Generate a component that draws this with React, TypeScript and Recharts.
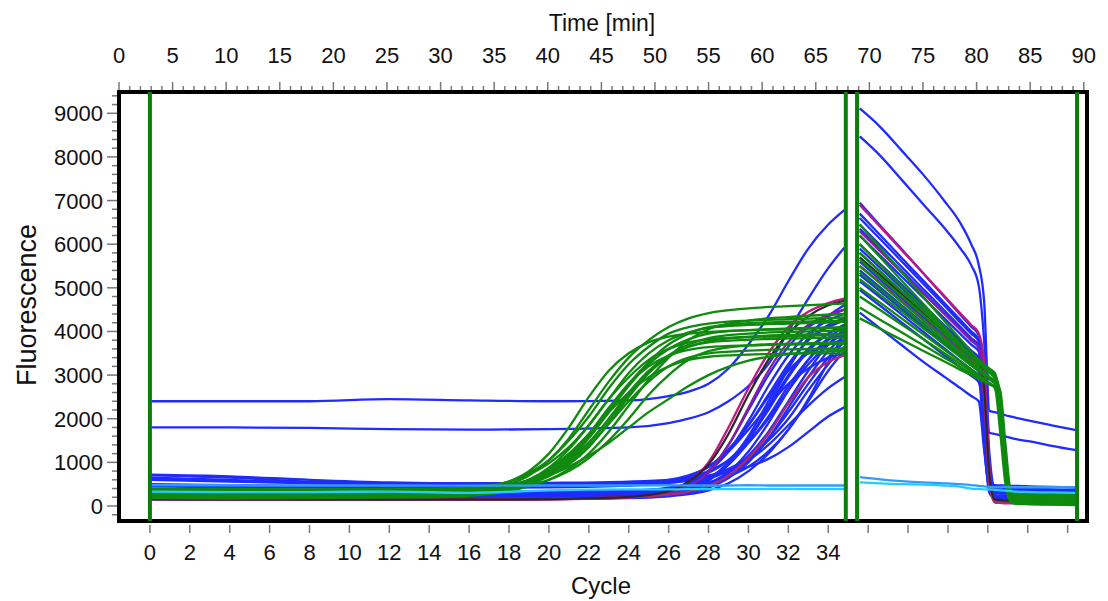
import React from "react";
import { LineChart, Line, XAxis, YAxis, ReferenceLine, ReferenceArea } from "recharts";

// ---------- axes ----------
const CYCLE_MIN = -1.55;
const CYCLE_MAX = 46.97;
const TIME_MIN = 0;
const TIME_MAX = 90.3;
const Y_MIN = -344;
const Y_MAX = 9488;
const CYCLE_TICKS = [0, 2, 4, 6, 8, 10, 12, 14, 16, 18, 20, 22, 24, 26, 28, 30, 32, 34, 36, 38, 40, 42, 44, 46];
const CYCLE_LABEL_MAX = 34;
const TIME_MAJOR = [0, 5, 10, 15, 20, 25, 30, 35, 40, 45, 50, 55, 60, 65, 70, 75, 80, 85, 90];
const Y_MAJOR = [0, 1000, 2000, 3000, 4000, 5000, 6000, 7000, 8000, 9000];
const TIME_TICKS = Array.from({ length: 91 }, (_, i) => i);
const Y_TICKS = Array.from({ length: 49 }, (_, i) => -200 + i * 200);

// vertical green markers
const MARK_CYCLE = 0;
const MARK_TIMES = [67.8, 68.85, 89.37];

// ---------- amplification (x = cycle) ----------
const GREEN_X = [0, 4, 8, 12, 15, 17, 18, 19, 20, 21, 22, 23, 24, 25, 26, 27, 28, 30, 32, 34.8];
const GREEN_AMP = [
  [300, 290, 280, 290, 320, 420, 560, 800, 1200, 1800, 2500, 3100, 3500, 3750, 3880, 3950, 3990, 4030, 4050, 4080],
  [250, 240, 250, 260, 290, 380, 500, 700, 1050, 1550, 2200, 2850, 3400, 3800, 4100, 4300, 4420, 4530, 4580, 4640],
  [350, 340, 330, 340, 370, 450, 560, 760, 1050, 1500, 2050, 2700, 3250, 3650, 3950, 4100, 4180, 4250, 4280, 4320],
  [200, 190, 200, 210, 230, 310, 420, 600, 880, 1300, 1850, 2450, 2950, 3350, 3600, 3750, 3820, 3870, 3890, 3920],
  [400, 390, 380, 390, 410, 470, 560, 720, 980, 1350, 1850, 2450, 3050, 3500, 3800, 3980, 4080, 4150, 4180, 4220],
  [300, 290, 300, 300, 320, 380, 460, 600, 820, 1150, 1650, 2250, 2800, 3200, 3450, 3580, 3640, 3680, 3700, 3720],
  [180, 170, 180, 190, 210, 270, 350, 500, 720, 1050, 1550, 2150, 2750, 3250, 3600, 3820, 3950, 4030, 4070, 4100],
  [320, 310, 300, 310, 330, 380, 440, 560, 750, 1050, 1450, 2000, 2600, 3100, 3450, 3650, 3750, 3810, 3840, 3860],
  [260, 250, 260, 270, 290, 340, 400, 500, 680, 950, 1350, 1900, 2500, 3050, 3450, 3700, 3850, 3950, 3990, 4020],
  [380, 370, 360, 370, 390, 430, 490, 590, 750, 1000, 1380, 1880, 2400, 2850, 3200, 3400, 3500, 3560, 3590, 3610],
  [220, 210, 220, 230, 250, 290, 350, 450, 600, 850, 1200, 1700, 2300, 2900, 3400, 3800, 4050, 4250, 4330, 4400],
  [290, 280, 290, 290, 310, 350, 400, 480, 600, 800, 1100, 1500, 2000, 2550, 3000, 3350, 3550, 3680, 3720, 3750],
  [330, 320, 320, 330, 350, 400, 460, 560, 700, 900, 1150, 1450, 1800, 2150, 2450, 2750, 3000, 3330, 3480, 3560],
  [240, 230, 240, 250, 270, 340, 430, 600, 850, 1200, 1650, 2150, 2600, 2950, 3200, 3350, 3420, 3470, 3490, 3500],
  [210, 200, 210, 220, 240, 300, 380, 530, 760, 1100, 1600, 2200, 2800, 3300, 3700, 3950, 4100, 4190, 4220, 4250],
  [360, 350, 340, 350, 370, 420, 480, 590, 770, 1050, 1450, 1980, 2550, 3050, 3420, 3650, 3780, 3880, 3920, 3950],
];

const BLUE_X = [0, 4, 8, 12, 16, 20, 24, 26, 27, 28, 29, 30, 31, 32, 33, 34, 34.8];
const BLUE_AMP = [
  [180, 170, 160, 160, 170, 180, 230, 330, 480, 800, 1400, 2200, 3000, 3650, 4100, 4350, 4500],
  [250, 240, 230, 230, 240, 250, 290, 380, 520, 800, 1250, 1950, 2750, 3450, 3950, 4250, 4400],
  [600, 560, 520, 500, 500, 500, 520, 580, 680, 900, 1300, 1850, 2550, 3250, 3800, 4100, 4250],
  [160, 150, 150, 150, 150, 160, 200, 280, 380, 580, 950, 1500, 2250, 3000, 3600, 3950, 4150],
  [320, 300, 290, 290, 290, 300, 320, 380, 470, 650, 950, 1450, 2050, 2750, 3350, 3800, 4000],
  [700, 650, 560, 520, 510, 510, 520, 560, 640, 800, 1050, 1450, 2000, 2650, 3250, 3700, 3950],
  [200, 190, 180, 180, 190, 200, 230, 290, 360, 500, 750, 1150, 1700, 2400, 3100, 3700, 4050],
  [280, 270, 260, 260, 260, 270, 290, 340, 400, 520, 720, 1050, 1550, 2150, 2800, 3400, 3750],
  [650, 600, 530, 500, 490, 490, 500, 530, 580, 680, 850, 1100, 1500, 2000, 2650, 3250, 3650],
  [150, 140, 140, 140, 150, 160, 180, 220, 270, 360, 520, 800, 1200, 1750, 2400, 3100, 3550],
  [300, 290, 280, 280, 290, 300, 340, 420, 500, 620, 800, 1050, 1400, 1850, 2300, 2700, 2950],
  [620, 580, 540, 520, 520, 530, 560, 600, 640, 700, 780, 900, 1080, 1350, 1700, 2050, 2260],
  [450, 430, 420, 420, 420, 430, 470, 560, 680, 900, 1250, 1750, 2300, 2800, 3150, 3400, 3500],
  [230, 220, 210, 210, 220, 230, 260, 330, 430, 620, 950, 1500, 2300, 3150, 3850, 4350, 4600],
  [350, 340, 330, 330, 330, 340, 360, 400, 450, 540, 680, 900, 1250, 1750, 2450, 3300, 3950],
  [720, 680, 600, 540, 520, 520, 540, 600, 700, 900, 1250, 1850, 2500, 3100, 3500, 3700, 3800],
  [190, 180, 170, 170, 180, 190, 220, 300, 410, 620, 1000, 1600, 2400, 3200, 3800, 4150, 4300],
  [240, 230, 220, 220, 230, 240, 270, 320, 390, 520, 780, 1250, 1900, 2650, 3350, 3850, 4100],
  [170, 160, 150, 150, 160, 170, 190, 240, 300, 420, 640, 1000, 1550, 2250, 2950, 3550, 3900],
  [500, 480, 460, 450, 450, 460, 480, 530, 600, 760, 1050, 1550, 2200, 2950, 3550, 3950, 4150],
];
const MAGENTA_AMP = [
  [150, 140, 140, 140, 140, 150, 200, 330, 560, 1000, 1800, 2700, 3500, 4100, 4450, 4650, 4750],
  [170, 160, 150, 150, 150, 160, 200, 300, 450, 780, 1400, 2250, 3100, 3750, 4150, 4380, 4500],
  [180, 170, 160, 160, 160, 170, 200, 260, 330, 460, 700, 1100, 1650, 2350, 2950, 3300, 3450],
];
const BLACK_AMP = [160, 150, 150, 150, 150, 160, 210, 340, 560, 950, 1650, 2550, 3350, 3950, 4350, 4600, 4700];
const HIGH_AMP = [
  [2400, 2400, 2400, 2450, 2420, 2400, 2420, 2520, 2620, 2800, 3150, 3700, 4350, 5150, 5900, 6450, 6780],
  [1800, 1800, 1790, 1760, 1750, 1760, 1800, 1900, 2000, 2150, 2400, 2750, 3250, 4000, 4750, 5450, 5920],
];
const CYAN_AMP = [
  [480, 475, 470, 470, 465, 470, 470, 475, 470, 470, 470, 475, 470, 470, 470, 470, 470],
  [330, 320, 320, 330, 300, 360, 380, 380, 385, 385, 385, 385, 390, 390, 385, 385, 385],
];

// ---------- melt (x = time, min) ----------
const MELT_X = [69.1, 71, 73, 75, 77, 78.5, 79.5, 80.2, 80.7, 81.2, 81.7, 82.2, 82.7, 83.2, 83.7, 85, 87, 89.3];
const BLUE_MELT = [
  [6950, 6430, 5890, 5340, 4790, 4380, 4110, 3920, 2700, 800, 450, 430, 420, 420, 410, 400, 380, 360],
  [6700, 6210, 5690, 5170, 4650, 4260, 4000, 3820, 2300, 650, 400, 390, 380, 380, 370, 360, 350, 330],
  [6450, 5980, 5480, 4980, 4480, 4100, 3850, 3680, 2000, 500, 300, 290, 290, 280, 280, 270, 260, 250],
  [6200, 5740, 5260, 4780, 4300, 3940, 3700, 3540, 1700, 400, 250, 240, 240, 230, 230, 220, 210, 200],
  [6000, 5550, 5080, 4610, 4140, 3790, 3560, 3390, 1900, 450, 350, 340, 340, 330, 330, 320, 310, 300],
  [5800, 5370, 4920, 4470, 4020, 3690, 3460, 3300, 1500, 350, 200, 190, 190, 180, 180, 170, 170, 160],
  [5600, 5190, 4760, 4330, 3900, 3580, 3370, 3210, 2200, 600, 480, 470, 470, 460, 460, 450, 440, 420],
  [5400, 5010, 4600, 4190, 3780, 3470, 3270, 3130, 1800, 420, 300, 300, 290, 290, 280, 280, 270, 260],
  [5150, 4780, 4390, 4000, 3610, 3320, 3130, 2990, 1400, 300, 180, 170, 170, 170, 160, 160, 150, 150],
  [4950, 4590, 4210, 3830, 3450, 3170, 2980, 2840, 2000, 500, 380, 370, 360, 360, 350, 350, 340, 330],
  [4430, 4070, 3690, 3310, 2960, 2700, 2520, 2400, 1300, 420, 330, 320, 320, 310, 310, 300, 300, 290],
  [6600, 6120, 5610, 5100, 4590, 4200, 3950, 3770, 3300, 1200, 420, 410, 400, 400, 390, 380, 370, 350],
  [6350, 5880, 5390, 4900, 4410, 4040, 3790, 3620, 2100, 550, 320, 310, 300, 300, 290, 280, 270, 260],
  [5900, 5460, 5000, 4540, 4080, 3740, 3510, 3350, 1700, 380, 230, 220, 220, 210, 210, 200, 190, 180],
  [5300, 4920, 4520, 4120, 3720, 3430, 3230, 3080, 2100, 550, 420, 410, 400, 400, 390, 380, 370, 360],
];
const HIGH_MELT = [
  [9110, 8690, 8150, 7600, 6990, 6480, 6000, 5530, 4700, 2180, 2150, 2120, 2080, 2050, 2020, 1950, 1850, 1740],
  [8470, 8030, 7480, 6920, 6370, 5900, 5520, 5050, 3800, 1680, 1650, 1620, 1590, 1560, 1530, 1480, 1380, 1280],
];
const GREEN_MELT = [
  [6450, 5920, 5360, 4800, 4240, 3820, 3540, 3350, 3250, 3150, 3050, 2400, 1000, 250, 200, 190, 180, 170],
  [6200, 5700, 5170, 4640, 4110, 3710, 3450, 3270, 3180, 3090, 2990, 2000, 700, 200, 150, 140, 130, 120],
  [6000, 5530, 5040, 4550, 4060, 3700, 3460, 3300, 3200, 3110, 3000, 2600, 1200, 300, 260, 250, 240, 230],
  [5800, 5370, 4920, 4470, 4020, 3690, 3460, 3300, 3190, 3080, 2950, 2200, 800, 150, 100, 90, 80, 70],
  [5650, 5240, 4810, 4380, 3950, 3630, 3410, 3260, 3160, 3050, 2920, 2500, 1100, 250, 220, 210, 200, 190],
  [5500, 5100, 4680, 4260, 3840, 3530, 3320, 3170, 3070, 2960, 2850, 1900, 600, 120, 80, 70, 60, 50],
  [5350, 4970, 4570, 4170, 3770, 3470, 3270, 3130, 3030, 2930, 2820, 2300, 1000, 200, 170, 160, 150, 140],
  [5200, 4840, 4460, 4080, 3700, 3410, 3220, 3090, 3000, 2900, 2800, 2650, 1400, 350, 300, 290, 280, 270],
  [5000, 4660, 4300, 3940, 3580, 3310, 3130, 3000, 2910, 2820, 2720, 1700, 500, 100, 60, 50, 40, 30],
  [4800, 4490, 4160, 3830, 3500, 3250, 3090, 2970, 2890, 2800, 2710, 2100, 900, 180, 140, 130, 120, 110],
  [4550, 4270, 3980, 3690, 3400, 3180, 3040, 2940, 2870, 2790, 2720, 2400, 1200, 260, 220, 210, 200, 190],
  [4300, 4060, 3810, 3560, 3310, 3120, 3000, 2910, 2850, 2790, 2730, 2250, 700, 80, 50, 40, 30, 20],
];
const MAGENTA_MELT = [
  [6900, 6400, 5870, 5340, 4810, 4410, 4150, 3960, 3300, 900, 100, 80, 70, 70, 70, 70, 70, 70],
  [6300, 5840, 5360, 4880, 4400, 4040, 3800, 3640, 2800, 600, 120, 100, 90, 90, 90, 80, 80, 80],
  [5500, 5120, 4700, 4280, 3860, 3550, 3340, 3190, 2500, 500, 80, 70, 60, 60, 60, 60, 60, 60],
];
const BLACK_MELT = [5700, 5290, 4860, 4430, 4000, 3680, 3470, 3320, 2700, 700, 150, 140, 130, 130, 130, 120, 120, 120];
const CYAN_MELT = [
  [660, 610, 570, 540, 520, 500, 480, 460, 450, 440, 430, 430, 440, 430, 430, 430, 430, 430],
  [540, 520, 500, 490, 470, 440, 400, 390, 380, 380, 370, 360, 350, 340, 330, 320, 310, 300],
];

// ---------- styles ----------
const BLUE = "#1f2bff";
const GREEN = "#0f8a0f";
const MARK_GREEN = "#0a7d0a";
const MAGENTA = ["#c0187f", "#8a1ca0", "#b02a6a"];
const BLACK = "#2a2a2a";
const CYAN = ["#2f9bff", "#22ccff"];
const FONT = "'Liberation Sans', Arial, sans-serif";
const LINE_W = 2.3;

type S = { axis: string; xs: number[]; ys: number[]; color: string };
const pts = (xs: number[], ys: number[]) => xs.map((x, i) => ({ x, y: ys[i] }));

const SERIES: S[] = [
  ...HIGH_AMP.map((ys) => ({ axis: "cycle", xs: BLUE_X, ys, color: BLUE })),
  ...HIGH_MELT.map((ys) => ({ axis: "time", xs: MELT_X, ys, color: BLUE })),
  ...BLUE_AMP.map((ys) => ({ axis: "cycle", xs: BLUE_X, ys, color: BLUE })),
  ...BLUE_MELT.map((ys) => ({ axis: "time", xs: MELT_X, ys, color: BLUE })),
  ...MAGENTA_AMP.map((ys, i) => ({ axis: "cycle", xs: BLUE_X, ys, color: MAGENTA[i] })),
  ...MAGENTA_MELT.map((ys, i) => ({ axis: "time", xs: MELT_X, ys, color: MAGENTA[i] })),
  { axis: "cycle", xs: BLUE_X, ys: BLACK_AMP, color: BLACK },
  { axis: "time", xs: MELT_X, ys: BLACK_MELT, color: BLACK },
  ...GREEN_AMP.map((ys) => ({ axis: "cycle", xs: GREEN_X, ys, color: GREEN })),
  ...GREEN_MELT.map((ys) => ({ axis: "time", xs: MELT_X, ys, color: GREEN })),
  ...CYAN_AMP.map((ys, i) => ({ axis: "cycle", xs: BLUE_X, ys, color: CYAN[i] })),
  ...CYAN_MELT.map((ys, i) => ({ axis: "time", xs: MELT_X, ys, color: CYAN[i] })),
];

const TopTick = (p: any) => {
  const { x, y, payload } = p;
  const v = payload.value;
  const major = TIME_MAJOR.includes(v);
  return (
    <g>
      <line x1={x} x2={x} y1={y - 2} y2={y - (major ? 10 : 6)} stroke="#777" strokeWidth={1.5} />
      {major && (
        <text x={x} y={y - 29} textAnchor="middle" fontSize={22} fontFamily={FONT} fill="#111">
          {v}
        </text>
      )}
    </g>
  );
};

const BottomTick = (p: any) => {
  const { x, y, payload } = p;
  const v = payload.value;
  return (
    <g>
      <line x1={x} x2={x} y1={y + 4} y2={y + 12} stroke="#777" strokeWidth={1.5} />
      {v <= CYCLE_LABEL_MAX && (
        <text x={x} y={y + 39} textAnchor="middle" fontSize={22} fontFamily={FONT} fill="#111">
          {v}
        </text>
      )}
    </g>
  );
};

const LeftTick = (p: any) => {
  const { x, y, payload } = p;
  const v = payload.value;
  const major = Y_MAJOR.includes(v);
  return (
    <g>
      <line x1={x - 2} x2={x - (major ? 12 : 7)} y1={y} y2={y} stroke="#777" strokeWidth={1.5} />
      {major && (
        <text x={x - 16} y={y + 8} textAnchor="end" fontSize={22} fontFamily={FONT} fill="#111">
          {v}
        </text>
      )}
    </g>
  );
};

export default function App() {
  return (
    <div style={{ width: 1100, height: 593 }}>
      <style>{"html,body{overflow:hidden}"}</style>
      <LineChart width={1100} height={593} margin={{ top: 24, right: 21, bottom: 10, left: 11 }}>
        <XAxis
          xAxisId="cycle"
          type="number"
          dataKey="x"
          orientation="bottom"
          domain={[CYCLE_MIN, CYCLE_MAX]}
          allowDataOverflow
          ticks={CYCLE_TICKS}
          interval={0}
          tick={BottomTick}
          tickLine={false}
          axisLine={false}
          tickSize={0}
          tickMargin={0}
          height={70}
        />
        <XAxis
          xAxisId="time"
          type="number"
          dataKey="x"
          orientation="top"
          domain={[TIME_MIN, TIME_MAX]}
          allowDataOverflow
          ticks={TIME_TICKS}
          interval={0}
          tick={TopTick}
          tickLine={false}
          axisLine={false}
          tickSize={0}
          tickMargin={0}
          height={60}
        />
        <YAxis
          type="number"
          domain={[Y_MIN, Y_MAX]}
          allowDataOverflow
          ticks={Y_TICKS}
          interval={0}
          tick={LeftTick}
          tickLine={false}
          axisLine={false}
          tickSize={0}
          tickMargin={0}
          width={100}
        />
        {SERIES.map((s, i) => (
          <Line
            key={"s" + i}
            data={pts(s.xs, s.ys)}
            dataKey="y"
            xAxisId={s.axis}
            type="monotone"
            stroke={s.color}
            strokeWidth={LINE_W}
            dot={false}
            activeDot={false}
            isAnimationActive={false}
          />
        ))}
        <ReferenceLine xAxisId="cycle" x={MARK_CYCLE} stroke={MARK_GREEN} strokeWidth={4} />
        {MARK_TIMES.map((t) => (
          <ReferenceLine key={"m" + t} xAxisId="time" x={t} stroke={MARK_GREEN} strokeWidth={4} />
        ))}
        <ReferenceArea
          xAxisId="time"
          x1={TIME_MIN}
          x2={TIME_MAX}
          y1={Y_MIN}
          y2={Y_MAX}
          fill="none"
          fillOpacity={0}
          stroke="#000"
          strokeWidth={4}
          ifOverflow="visible"
        />
        <text x={594} y={23} textAnchor="middle" fontSize={23} fontFamily={FONT} fill="#111">
          Time [min]
        </text>
        <text x={593} y={586} textAnchor="middle" fontSize={24} fontFamily={FONT} fill="#111">
          Cycle
        </text>
        <text
          x={0}
          y={0}
          transform="translate(28,297) rotate(-90)"
          textAnchor="middle"
          fontSize={27}
          fontFamily={FONT}
          fill="#111"
        >
          Fluorescence
        </text>
      </LineChart>
    </div>
  );
}
